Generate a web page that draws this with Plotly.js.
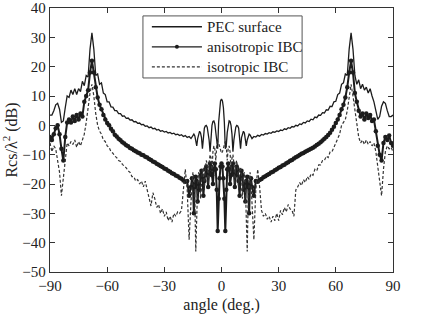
<!DOCTYPE html>
<html>
<head>
<meta charset="utf-8">
<script src="https://cdn.plot.ly/plotly-3.0.1.min.js"></script>
<style>
  html, body { margin: 0; padding: 0; background: #fff; }
  #chart { width: 436px; height: 314px; }
</style>
</head>
<body>
<div id="chart"></div>
<script>
// Observation angle in degrees (finer sampling around broadside)
const angle = [
  -90,-89,-88,-87,-86,-85,-84,-83,-82,-81,-80,-79,-78,-77,-76,-75,-74,-73,-72,-71,
  -70,-69,-68,-67,-66,-65,-64,-63,-62,-61,-60,-59,-58,-57,-56,-55,-54,-53,-52,-51,
  -50,-49,-48,-47,-46,-45,-44,-43,-42,-41,-40,-39,-38,-37,-36,-35,-34,-33,-32,-31,
  -30,-29,-28,-27,-26,-25,-24,-23,-22,-21,-20,-19,-18,-17,
  -16,-15.5,-15,-14.5,-14,-13.5,-13,-12.5,-12,-11.5,-11,-10.5,-10,-9.5,-9,-8.5,
  -8,-7.5,-7,-6.5,-6,-5.5,-5,-4.5,-4,-3.5,-3,-2.5,-2,-1.5,-1,-0.5,
  0,0.5,1,1.5,2,2.5,3,3.5,4,4.5,5,5.5,6,6.5,7,7.5,
  8,8.5,9,9.5,10,10.5,11,11.5,12,12.5,13,13.5,14,14.5,15,15.5,16,
  17,18,19,20,21,22,23,24,25,26,27,28,29,30,31,32,33,34,35,36,
  37,38,39,40,41,42,43,44,45,46,47,48,49,50,51,52,53,54,55,56,
  57,58,59,60,61,62,63,64,65,66,67,68,69,70,71,72,73,74,75,76,
  77,78,79,80,81,82,83,84,85,86,87,88,89,90
];

// Rcs/lambda^2 in dB, PEC surface
const pecSurface = [
  3.5,3.5,5,7,7.5,5.5,1,1.5,6,10,9.5,12,10.5,12.5,10.5,12.5,11.5,15,13.5,17,
  16.5,26,31.5,26,17,17.5,14,14.5,11,10.5,8,8,6.3,6.2,5,5,4,4,3.1,3.2,
  2.4,2.5,1.8,1.9,1.2,1.3,0.7,0.8,0.2,0.3,-0.3,-0.2,-0.8,-0.6,-1.2,-1,-1.6,-1.4,-2,-1.8,
  -2.3,-2.1,-2.6,-2.4,-2.9,-2.7,-3.2,-3,-3.5,-3.2,-3.8,-3.5,-4.1,-3.8,
  -4.5,-4,-3.3,-3,-3.6,-5,-7,-4.5,-2.6,-2,-2.6,-4.2,-8,-3.5,-1,-0.2,
  0,-0.6,-2.5,-5,-9,-3,0,1.3,1.5,0.5,-2.5,-7,-8,1,6,8.3,
  9,8.3,6,1,-8,-7,-2.5,0.5,1.5,1.3,0,-3,-9,-5,-2.5,-0.6,
  0,-0.2,-1,-3.5,-8,-4.2,-2.6,-2,-2.6,-4.5,-7,-5,-3.6,-3,-3.3,-4,-4.5,
  -3.8,-4,-3.4,-3.7,-3.1,-3.3,-2.8,-3,-2.5,-2.7,-2.2,-2.4,-1.9,-2.1,-1.6,-1.8,-1.2,-1.4,-0.8,-1,
  -0.4,-0.6,0,-0.2,0.5,0.3,1,0.8,1.5,1.3,2.1,1.9,2.8,2.6,3.5,3.4,4.3,4.2,5.3,5.2,
  6.5,6.4,8,8.2,10.5,11,14,14.5,17.5,17,26,31.5,26,17,14,15.5,12.5,14,12,13,
  11,12.5,10,8,5,2,3,6.5,8,7.5,5,3,3,3.5
];

// Rcs/lambda^2 in dB, anisotropic impedance boundary condition
const anisotropicIBC = [
  -4,-5,-3,-1,0,-3,-8,-12,-4,1,2,1,3,1.5,3.5,2,4,3,8,10,
  12,18,22,18,13,9.5,7,5.5,3.5,2,0.8,0,-1.2,-2,-3.2,-3.8,-4.6,-5.1,-5.8,-6.2,
  -6.8,-7.1,-7.7,-8,-8.5,-8.8,-9.3,-9.5,-10,-10.2,-10.7,-11,-11.5,-11.8,-12.3,-12.6,-13.1,-13.4,-13.9,-14.2,
  -14.7,-15,-15.5,-15.8,-16.3,-16.6,-17.1,-17.4,-17.9,-18.2,-18.8,-19.2,-19,-24,
  -21,-18,-20,-30,-21,-17.5,-19,-26,-20,-22,-17,-15.5,-18,-24,-19,-15,
  -14,-17,-21,-16,-13,-14,-17,-20,-15,-13,-15,-22,-36,-25,-18,-14,
  -13,-14,-18,-25,-36,-22,-15,-13,-15,-20,-17,-14,-13,-16,-21,-17,
  -14,-15,-19,-24,-18,-15.5,-17,-22,-20,-26,-19,-17.5,-21,-30,-20,-18,-21,
  -24,-19,-19.2,-18.6,-18.3,-17.7,-17.4,-16.9,-16.6,-16.1,-15.8,-15.3,-15,-14.5,-14.2,-13.7,-13.4,-12.9,-12.6,-12.1,
  -11.8,-11.3,-10.9,-10.5,-10.1,-9.7,-9.4,-9,-8.7,-8.3,-8,-7.6,-7.2,-6.7,-6.3,-5.8,-5.2,-4.6,-4,-3.3,
  -2.5,-1.5,-0.5,0.8,2,3.5,5.5,7,9.5,13,18,22,18,11,8,5,3,4,2,4,
  2.5,3.5,1.5,2,-2,-7,-10,-12,-6,-4,-5,-3.5,-6,-7
];

// Rcs/lambda^2 in dB, isotropic impedance boundary condition
const isotropicIBC = [
  -6,-9,-7,-8,-12,-16,-24,-18,-10,-6,-7,-5.5,-6.5,-5,-7.5,-5.5,-7,-5,-3,1,
  6,11,14,10,4,0,-2,-3,-5,-5.5,-7,-7.5,-9,-9.5,-10.5,-11,-12,-12.3,-13.3,-13.8,
  -14.5,-15.5,-16,-17.5,-17.5,-19,-18.5,-20,-19,-21,-19,-22,-25,-27.5,-23,-25,-28,-27,-30,-28.5,
  -31,-29.5,-32.5,-31,-33,-30,-31,-29.5,-30,-29,-22,-15,-22,-39,
  -26,-20,-16,-18,-25,-43,-30,-20,-16,-17,-25,-17,-14.5,-15,-22,-15,
  -12,-13,-20,-13,-10,-11,-16,-9,-7,-8,-12,-7,-5.5,-6,-7.5,-9,
  -9.5,-9,-7.5,-6,-5.5,-7,-12,-8,-7,-9,-16,-11,-10,-13,-20,-13,
  -12,-15,-22,-15,-14.5,-17,-25,-17,-16,-20,-30,-43,-25,-18,-16,-20,-26,
  -39,-22,-15,-21,-29,-31,-30,-32,-31,-33,-31,-32.5,-30,-32.5,-29,-30.5,-28,-29.5,-27,-28.5,
  -29,-31,-22,-21,-19.5,-20.5,-18.5,-19.5,-17.5,-18.4,-16.5,-17,-15,-15.5,-13.5,-13.5,-12,-12,-10.5,-11,
  -9,-9,-7.5,-6.5,-5,-3,0,1,2,5,10,14,10,5,0,-4,-6,-5,-6.5,-5,
  -6.5,-5.5,-7,-6,-9,-14,-20,-24,-15,-9,-7,-8,-7.5,-9
];

const seriesNames = ['PEC surface', 'anisotropic IBC', 'isotropic IBC'];
const xTicks = [-90, -60, -30, 0, 30, 60, 90];
const yTicks = [-50, -40, -30, -20, -10, 0, 10, 20, 30, 40];

const ink = '#1c1c1c';
const serif = 'Liberation Serif, Times New Roman, serif';

const pecLine = { color: ink, width: 1.3 };
const anisoLine = { color: ink, width: 2 };
const anisoMarker = { color: ink, size: 4.5, symbol: 'circle' };
const isoLine = { color: '#333', width: 1.2, dash: '3px,2px' };

const traces = [
  { x: angle, y: pecSurface, name: seriesNames[0], type: 'scatter', mode: 'lines', line: pecLine },
  { x: angle, y: anisotropicIBC, name: seriesNames[1], type: 'scatter', mode: 'lines+markers',
    line: anisoLine, marker: anisoMarker },
  { x: angle, y: isotropicIBC, name: seriesNames[2], type: 'scatter', mode: 'lines', line: isoLine }
];

// Compact boxed key in the upper middle of the plot area (paper coordinates)
const key = { x0: 0.271, x1: 0.735, y0: 0.735, y1: 0.970,
              lineX0: 0.297, lineX1: 0.443, textX: 0.452,
              rows: [0.929, 0.853, 0.777] };
const keyStyles = [pecLine, { color: ink, width: 1.3 }, isoLine];

const shapes = [{
  type: 'rect', xref: 'paper', yref: 'paper', layer: 'above',
  x0: key.x0, x1: key.x1, y0: key.y0, y1: key.y1,
  fillcolor: '#fff', line: { color: '#555', width: 1 }
}];
const annotations = [];
seriesNames.forEach((name, i) => {
  const yy = key.rows[i];
  shapes.push({
    type: 'line', xref: 'paper', yref: 'paper', layer: 'above',
    x0: key.lineX0, x1: key.lineX1, y0: yy, y1: yy,
    line: Object.assign({}, keyStyles[i])
  });
  annotations.push({
    xref: 'paper', yref: 'paper', x: key.textX, y: yy,
    xanchor: 'left', yanchor: 'middle', showarrow: false, text: name,
    font: { family: serif, size: 15, color: '#222' }
  });
});
shapes.push({
  type: 'circle', xref: 'paper', yref: 'paper', layer: 'above',
  xsizemode: 'pixel', ysizemode: 'pixel',
  xanchor: (key.lineX0 + key.lineX1) / 2, yanchor: key.rows[1],
  x0: -2, x1: 2, y0: -2, y1: 2,
  fillcolor: ink, line: { width: 0 }
});

const axisCommon = {
  showgrid: false, zeroline: false,
  showline: true, linecolor: '#333', linewidth: 1.2,
  mirror: 'ticks', ticks: 'inside', ticklen: 5, tickcolor: '#333',
  tickfont: { family: serif, size: 15, color: '#222' }
};

const layout = {
  width: 436, height: 314,
  margin: { l: 50, r: 43, t: 8, b: 42 },
  paper_bgcolor: '#fff', plot_bgcolor: '#fff',
  showlegend: false,
  shapes: shapes,
  annotations: annotations,
  xaxis: Object.assign({}, axisCommon, {
    range: [-90, 90], tickvals: xTicks,
    title: { text: 'angle (deg.)', font: { family: serif, size: 16, color: '#222' }, standoff: 8 }
  }),
  yaxis: Object.assign({}, axisCommon, {
    range: [-50, 40], tickvals: yTicks,
    title: { text: 'Rcs/λ<sup>2</sup> (dB)', font: { family: serif, size: 16, color: '#222' }, standoff: 4 }
  })
};

Plotly.newPlot('chart', traces, layout, { displayModeBar: false, staticPlot: true });
</script>
</body>
</html>
